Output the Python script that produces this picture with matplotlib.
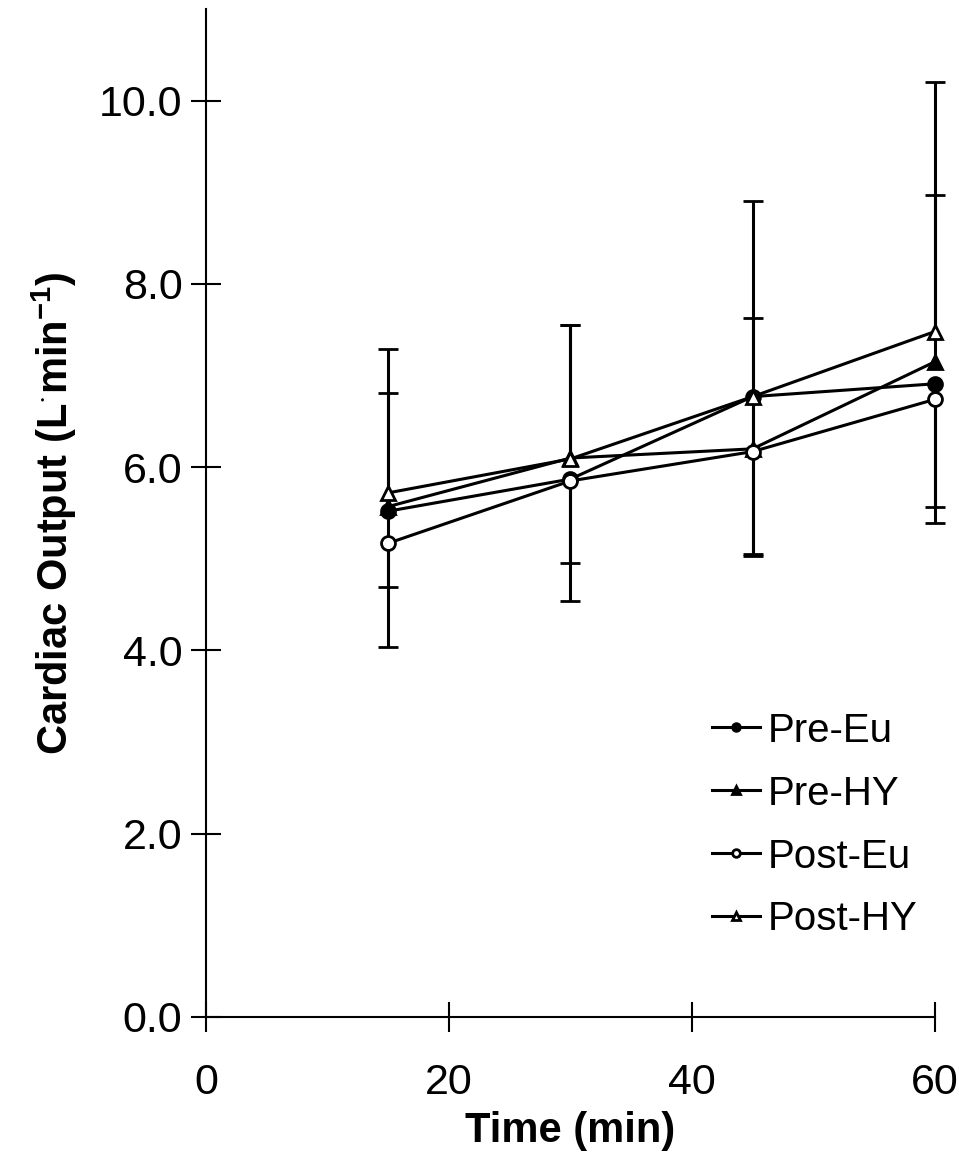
import numpy as np
import matplotlib.pyplot as plt

plt.rcParams['font.family'] = ['Liberation Sans', 'DejaVu Sans']
plt.rcParams['mathtext.fontset'] = 'custom'
plt.rcParams['mathtext.rm'] = 'Liberation Sans:bold'
plt.rcParams['mathtext.bf'] = 'Liberation Sans:bold'

time = [15, 30, 45, 60]
series = ['Pre-Eu', 'Pre-HY', 'Post-Eu', 'Post-HY']
pre_eu = [5.52, 5.87, 6.77, 6.91]
pre_hy = [5.57, 6.10, 6.20, 7.15]
post_eu = [5.17, 5.85, 6.17, 6.74]
post_hy = [5.72, 6.09, 6.77, 7.48]
# one-sided SD bars (Eu groups drawn downward, HY groups upward)
pre_eu_sd = [0.83, 0.92, 1.74, 1.34]
pre_hy_sd = [1.24, 1.45, 1.43, 1.82]
post_eu_sd = [1.13, 1.31, 1.12, 1.35]
post_hy_sd = [1.57, 1.46, 2.14, 2.72]

fig = plt.figure(figsize=(9.59, 11.55), dpi=100)
ax = fig.add_axes([0.2148, 0.1195, 0.760, 0.8727])

styles = [
    (pre_eu, pre_eu_sd, 'down', 'o', 'black'),
    (pre_hy, pre_hy_sd, 'up', '^', 'black'),
    (post_eu, post_eu_sd, 'down', 'o', 'white'),
    (post_hy, post_hy_sd, 'up', '^', 'white'),
]

handles = []
for name, (vals, sd, side, mk, face) in zip(series, styles):
    vals = np.array(vals)
    sd = np.array(sd)
    zeros = np.zeros_like(sd)
    yerr = [sd, zeros] if side == 'down' else [zeros, sd]
    line, caps, bars = ax.errorbar(time, vals, yerr=yerr, color='black', lw=2.2,
                                   elinewidth=2.2, capsize=7, capthick=2.5,
                                   marker=mk, markersize=10, markerfacecolor=face,
                                   markeredgecolor='black', markeredgewidth=2,
                                   label=name, clip_on=False, zorder=3)
    for c in caps:
        if np.allclose(c.get_ydata(), vals):
            c.set_visible(False)
    handles.append(line)

ax.set_xlim(0, 60)
ax.set_ylim(0, 11)
ax.set_xticks([0, 20, 40, 60])
ax.set_yticks([0, 2, 4, 6, 8, 10])
ax.set_yticklabels(['0.0', '2.0', '4.0', '6.0', '8.0', '10.0'])
ax.spines['top'].set_visible(False)
ax.spines['right'].set_visible(False)
for s in ['left', 'bottom']:
    ax.spines[s].set_linewidth(1.5)
ax.tick_params(direction='inout', length=22, width=1.5, labelsize=31, pad=6)
ax.tick_params(axis='x', pad=22)

ax.set_xlabel('Time (min)', fontsize=30, fontweight='bold', labelpad=6)
ax.set_ylabel(r'Cardiac Output (L$^{\cdot}$min$^{-1}$)', fontsize=30,
              fontweight='bold', labelpad=14)

ax.legend(handles=handles, labels=series, loc='upper left',
          bbox_to_anchor=(0.694, 0.303), frameon=False, borderaxespad=0,
          borderpad=0, fontsize=29, handlelength=1.2, handletextpad=0.2,
          labelspacing=0.62, markerscale=0.55)

fig.savefig('out.png', dpi=100)
